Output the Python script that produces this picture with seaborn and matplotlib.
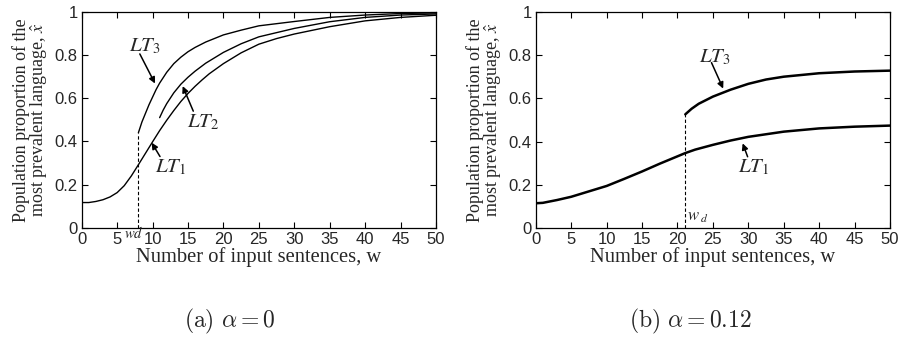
import matplotlib
matplotlib.use("Agg")
import matplotlib.pyplot as plt
import pandas as pd
import seaborn as sns

# (a) alpha = 0
a_lt1_w = [0, 1, 2, 3, 4, 5, 6, 7, 8, 9, 10, 11, 12, 13, 14, 15, 16, 17, 18, 20, 22.5, 25, 27.5, 30, 35, 40, 45, 50]
a_lt1_x = [0.117, 0.117, 0.122, 0.13, 0.143, 0.163, 0.195, 0.24, 0.292, 0.345, 0.398, 0.45, 0.498, 0.543,
           0.585, 0.622, 0.655, 0.685, 0.713, 0.76, 0.81, 0.85, 0.876, 0.897, 0.931, 0.958, 0.974, 0.984]
a_lt2_w = [11, 11.5, 12, 12.5, 13, 14, 15, 16, 17.5, 20, 22.5, 25, 30, 35, 40, 45, 50]
a_lt2_x = [0.51, 0.545, 0.575, 0.60, 0.625, 0.665, 0.697, 0.725, 0.762, 0.812, 0.852, 0.884, 0.923, 0.954,
           0.974, 0.985, 0.99]
a_lt3_w = [8, 8.5, 9, 9.5, 10, 10.5, 11, 11.5, 12, 13, 14, 15, 16, 17.5, 20, 22.5, 25, 30, 35, 40, 45, 50]
a_lt3_x = [0.44, 0.49, 0.53, 0.57, 0.605, 0.64, 0.67, 0.695, 0.72, 0.76, 0.79, 0.815, 0.835, 0.86, 0.893,
           0.915, 0.935, 0.955, 0.974, 0.985, 0.992, 0.995]
a_wd = 8.0

# (b) alpha = 0.12
b_lt1_w = [0, 1, 3, 5, 7.5, 10, 12.5, 15, 17.5, 20, 21.1, 22.5, 25, 27.5, 30, 35, 40, 45, 50]
b_lt1_x = [0.115, 0.117, 0.13, 0.145, 0.17, 0.195, 0.228, 0.262, 0.298, 0.332, 0.347, 0.363, 0.385, 0.405,
           0.422, 0.446, 0.461, 0.469, 0.474]
b_lt3_w = [21.1, 22, 23, 25, 27.5, 30, 32.5, 35, 40, 45, 50]
b_lt3_x = [0.526, 0.552, 0.575, 0.608, 0.64, 0.667, 0.687, 0.70, 0.716, 0.724, 0.728]
b_wd = 21.1

x_ticks = [0, 5, 10, 15, 20, 25, 30, 35, 40, 45, 50]
y_ticks = [0, 0.2, 0.4, 0.6, 0.8, 1]
y_tick_labels = ["0", "0.2", "0.4", "0.6", "0.8", "1"]

sns.set_theme(style="ticks")
plt.rcParams["font.family"] = ["Liberation Sans", "DejaVu Sans"]
plt.rcParams["xtick.direction"] = "in"
plt.rcParams["ytick.direction"] = "in"

serif = ["Liberation Serif", "DejaVu Serif"]

fig = plt.figure(figsize=(8.99, 3.37), dpi=100)
ax_a = fig.add_axes([0.0909, 0.324, 0.394, 0.641])
ax_b = fig.add_axes([0.596, 0.323, 0.394, 0.642])


def draw_curve(ax, w, x, lw):
    df = pd.DataFrame({"w": w, "x": x})
    sns.lineplot(data=df, x="w", y="x", color="black", linewidth=lw, ax=ax, sort=False)


def style_axes(ax):
    ax.set_xlim(0, 50)
    ax.set_ylim(0, 1)
    ax.set_xticks(x_ticks)
    ax.set_yticks(y_ticks)
    ax.set_yticklabels(y_tick_labels)
    ax.tick_params(labelsize=12, top=True, right=True, length=4, width=0.8, color="black", pad=3)
    for sp in ax.spines.values():
        sp.set_color("black")
        sp.set_linewidth(0.9)
    ax.set_xlabel("Number of input sentences, w", family=serif, fontsize=14.8, labelpad=0)
    ax.set_ylabel("Population proportion of the\nmost prevalent language, $\\hat{x}$",
                  family=serif, fontsize=13, labelpad=3, linespacing=0.95,
                  math_fontfamily="stix")


def lt_note(ax, label, text_xy, tail, tip, lw=1.1):
    ax.annotate("", xy=tip, xytext=tail,
                arrowprops=dict(arrowstyle="-|>", color="black", lw=lw, mutation_scale=9,
                                shrinkA=0, shrinkB=0))
    ax.text(text_xy[0], text_xy[1], label, ha="center", va="center", fontsize=15,
            math_fontfamily="stix")


# panel (a)
draw_curve(ax_a, a_lt1_w, a_lt1_x, 1.0)
draw_curve(ax_a, a_lt2_w, a_lt2_x, 1.0)
draw_curve(ax_a, a_lt3_w, a_lt3_x, 1.0)
ax_a.vlines(a_wd, 0, a_lt3_x[0], colors="black", linestyles=(0, (3, 2)), linewidth=0.8)
style_axes(ax_a)
lt_note(ax_a, "$LT_{\\mathrm{3}}$", (8.9, 0.84), (8.2, 0.805), (10.35, 0.668))
lt_note(ax_a, "$LT_{\\mathrm{2}}$", (17.1, 0.49), (15.75, 0.54), (14.25, 0.656))
lt_note(ax_a, "$LT_{\\mathrm{1}}$", (12.6, 0.28), (11.05, 0.33), (9.88, 0.394))
ax_a.text(7.3, -0.022, "$wd$", ha="center", va="center", fontsize=10.5, math_fontfamily="stix",
          clip_on=False)

# panel (b)
draw_curve(ax_b, b_lt1_w, b_lt1_x, 1.8)
draw_curve(ax_b, b_lt3_w, b_lt3_x, 1.8)
ax_b.vlines(b_wd, 0, b_lt3_x[0], colors="black", linestyles=(0, (3, 2)), linewidth=0.8)
style_axes(ax_b)
lt_note(ax_b, "$LT_{\\mathrm{3}}$", (25.3, 0.79), (24.8, 0.765), (26.45, 0.645))
lt_note(ax_b, "$LT_{\\mathrm{1}}$", (30.8, 0.28), (29.9, 0.33), (29.2, 0.392))
ax_b.text(22.9, 0.05, "$w\\,_d$", ha="center", va="center", fontsize=12, math_fontfamily="stix")

fig.text(0.256, 0.045, "$\\mathrm{(a)}\\ \\alpha = 0$", ha="center", va="center", fontsize=17,
         math_fontfamily="cm")
fig.text(0.768, 0.045, "$\\mathrm{(b)}\\ \\alpha = 0.12$", ha="center", va="center", fontsize=17,
         math_fontfamily="cm")

fig.savefig("out.png", dpi=100)
